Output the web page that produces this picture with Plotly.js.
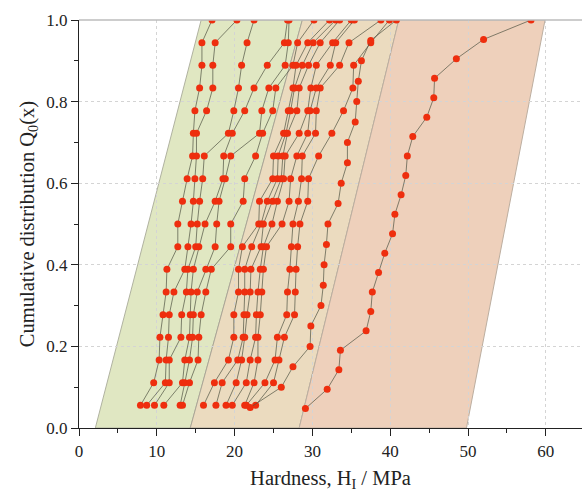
<!DOCTYPE html>
<html><head><meta charset="utf-8">
<script src="https://cdn.plot.ly/plotly-3.0.1.min.js"></script>
<style>html,body{margin:0;padding:0;background:#fff}</style>
</head><body><div id="chart" style="width:582px;height:492px"></div>
<script>
// cumulative levels
const q18 = [0.0556,0.1111,0.1667,0.2222,0.2778,0.3333,0.3889,0.4444,0.5,0.5556,0.6111,0.6667,0.7222,0.7778,0.8333,0.8889,0.9444,1.0];
const q20 = [0.05,0.10,0.15,0.20,0.25,0.30,0.35,0.40,0.45,0.50,0.55,0.60,0.65,0.70,0.75,0.80,0.85,0.90,0.95,1.0];
const q21 = [0.0476,0.0952,0.1429,0.1905,0.2381,0.2857,0.3333,0.3810,0.4286,0.4762,0.5238,0.5714,0.6190,0.6667,0.7143,0.7619,0.8095,0.8571,0.9048,0.9524,1.0];

// hardness values (MPa) per sample
const g1 = [7.9,9.6,10.3,10.4,10.8,11.2,11.3,12.7,12.7,13.3,13.9,14.6,14.7,14.9,15.5,15.8,15.8,17.1];
const g2 = [8.7,11.1,11.2,11.5,11.6,12.2,13.6,14.0,14.4,14.7,14.9,15.1,15.1,16.4,17.2,17.2,17.5,20.3];
const g3 = [9.7,11.6,11.6,13.1,13.2,13.8,14.0,15.0,15.2,15.5,15.9,16.1,19.2,19.9,20.5,20.9,21.6,22.5];
const g4 = [10.9,13.3,13.6,14.2,14.3,14.4,14.7,15.4,16.2,17.5,18.5,18.6,19.7,21.3,22.5,24.2,26.4,26.8];
const g5 = [13.0,13.6,14.2,14.6,14.7,15.2,16.3,17.5,17.7,18.0,18.8,19.5,23.2,23.5,24.4,26.5,26.9,27.0];
const g6 = [13.3,14.2,15.3,15.4,15.7,16.3,17.0,19.5,19.5,21.1,21.3,22.7,23.6,24.9,25.3,27.5,28.1,30.2];
const t1 = [16.0,17.4,19.2,19.9,19.9,20.5,20.5,21.0,23.1,23.2,24.9,25.0,26.3,26.9,27.5,27.9,29.4,32.2];
const t2 = [17.6,18.4,20.4,21.1,21.2,21.3,21.3,22.2,23.4,24.2,25.5,25.6,26.6,27.2,27.7,28.7,30.1,33.0];
const t3 = [18.9,20.2,20.9,21.3,21.6,22.0,22.1,23.4,23.7,24.9,26.0,26.2,26.8,28.0,28.3,29.5,31.0,33.5];
const t4 = [19.7,21.5,22.0,22.7,22.8,23.0,23.3,23.7,24.8,25.5,26.3,26.5,28.3,29.4,29.8,30.5,32.6,35.0];
const t5 = [21.3,22.5,23.0,23.0,23.3,23.5,23.7,24.1,26.1,27.0,27.2,28.0,29.4,29.7,30.5,32.3,33.0,35.4];
const t6 = [21.5,23.9,25.2,25.5,26.7,26.8,27.1,27.3,27.5,28.2,28.6,28.7,30.4,30.5,31.0,33.5,34.7,38.8];
const t7 = [22.7,25.0,25.7,26.4,27.7,27.8,27.9,28.1,28.4,29.4,29.5,30.8,32.5,34.0,35.2,35.3,37.5,39.9];
const t8 = [22.0,26.0,27.5,29.7,29.8,31.1,31.4,31.5,31.8,32.0,33.3,33.7,34.5,34.5,35.5,35.7,35.9,36.3,37.5,40.8];
const p1 = [29.1,31.9,33.4,33.6,36.9,37.5,37.7,38.5,39.3,40.3,40.6,41.4,42.0,42.2,42.9,44.7,45.6,45.7,48.5,52.0,58.1];

// hardness class bands (corner x at Q=0,0,1,1)
const bandY = [0,0,1,1];
const bandGreen = [2.1,14.3,28.7,15.7];
const bandTan = [14.3,28.3,41.1,28.7];
const bandPink = [28.3,49.8,59.9,41.1];

const xTicks = [0,10,20,30,40,50,60];
const yTicks = [0.0,0.2,0.4,0.6,0.8,1.0];

const series = [[g1,q18],[g2,q18],[g3,q18],[g4,q18],[g5,q18],[g6,q18],
  [t1,q18],[t2,q18],[t3,q18],[t4,q18],[t5,q18],[t6,q18],[t7,q18],[t8,q20],[p1,q21]];

const traces = series.map(([x,y]) => ({
  x: x, y: y, type: 'scatter', mode: 'lines+markers',
  line: {color: 'rgba(85,88,70,0.72)', width: 1},
  marker: {color: '#ee2e0e', size: 7},
  showlegend: false, hoverinfo: 'skip'
}));

function bandPath(xs){
  return 'M' + xs.map((x,i)=> x + ',' + bandY[i]).join(' L') + ' Z';
}
const shapes = [
  {type:'path', path: bandPath(bandGreen), xref:'x', yref:'y', fillcolor:'#e0e7c2', line:{color:'#b0b2a0', width:1}, layer:'below'},
  {type:'path', path: bandPath(bandTan), xref:'x', yref:'y', fillcolor:'#ebdbbf', line:{color:'#aaa596', width:1}, layer:'below'},
  {type:'path', path: bandPath(bandPink), xref:'x', yref:'y', fillcolor:'#eed0bb', line:{color:'#bcae a0'.replace(' ',''), width:1}, layer:'below'},
  {type:'line', xref:'paper', yref:'paper', x0:0, x1:1, y0:1, y1:1, line:{color:'#bdbdbd', width:1.5}}
];

const font = {family: 'Liberation Serif, Times New Roman, serif', color: '#222'};

const layout = {
  width: 582, height: 492,
  margin: {l: 79, r: 0, t: 20, b: 64},
  paper_bgcolor: '#fff', plot_bgcolor: '#fff',
  font: Object.assign({size: 17}, font),
  shapes: shapes,
  xaxis: {
    range: [0, 64.65], tickvals: xTicks, ticktext: xTicks.map(String),
    ticks: 'outside', ticklen: 7, tickwidth: 1, tickcolor: '#222',
    showline: true, linecolor: '#222', linewidth: 1.2,
    showgrid: true, gridcolor: '#d4d4d4', griddash: 'dot', gridwidth: 1,
    zeroline: false,
    minor: {ticks: 'outside', ticklen: 4, tickcolor: '#222', dtick: 5, tick0: 5, showgrid: false},
    tickfont: Object.assign({size: 17}, font),
    title: {text: 'Hardness, H<sub>I</sub> / MPa', font: Object.assign({size: 20.5}, font), standoff: 12},
    automargin: false
  },
  yaxis: {
    range: [0, 1], tickvals: yTicks, ticktext: yTicks.map(v => v.toFixed(1)),
    ticks: 'outside', ticklen: 7, tickwidth: 1, tickcolor: '#222',
    showline: true, linecolor: '#222', linewidth: 1.2,
    showgrid: true, gridcolor: '#d4d4d4', griddash: 'dot', gridwidth: 1,
    zeroline: false,
    minor: {ticks: 'outside', ticklen: 4, tickcolor: '#222', dtick: 0.1, tick0: 0.1, showgrid: false},
    tickfont: Object.assign({size: 17}, font),
    title: {text: 'Cumulative distribution Q<sub>0</sub>(x)', font: Object.assign({size: 20.5}, font), standoff: 6},
    automargin: false
  }
};

Plotly.newPlot('chart', traces, layout, {displayModeBar: false, staticPlot: true});
</script>
</body></html>
